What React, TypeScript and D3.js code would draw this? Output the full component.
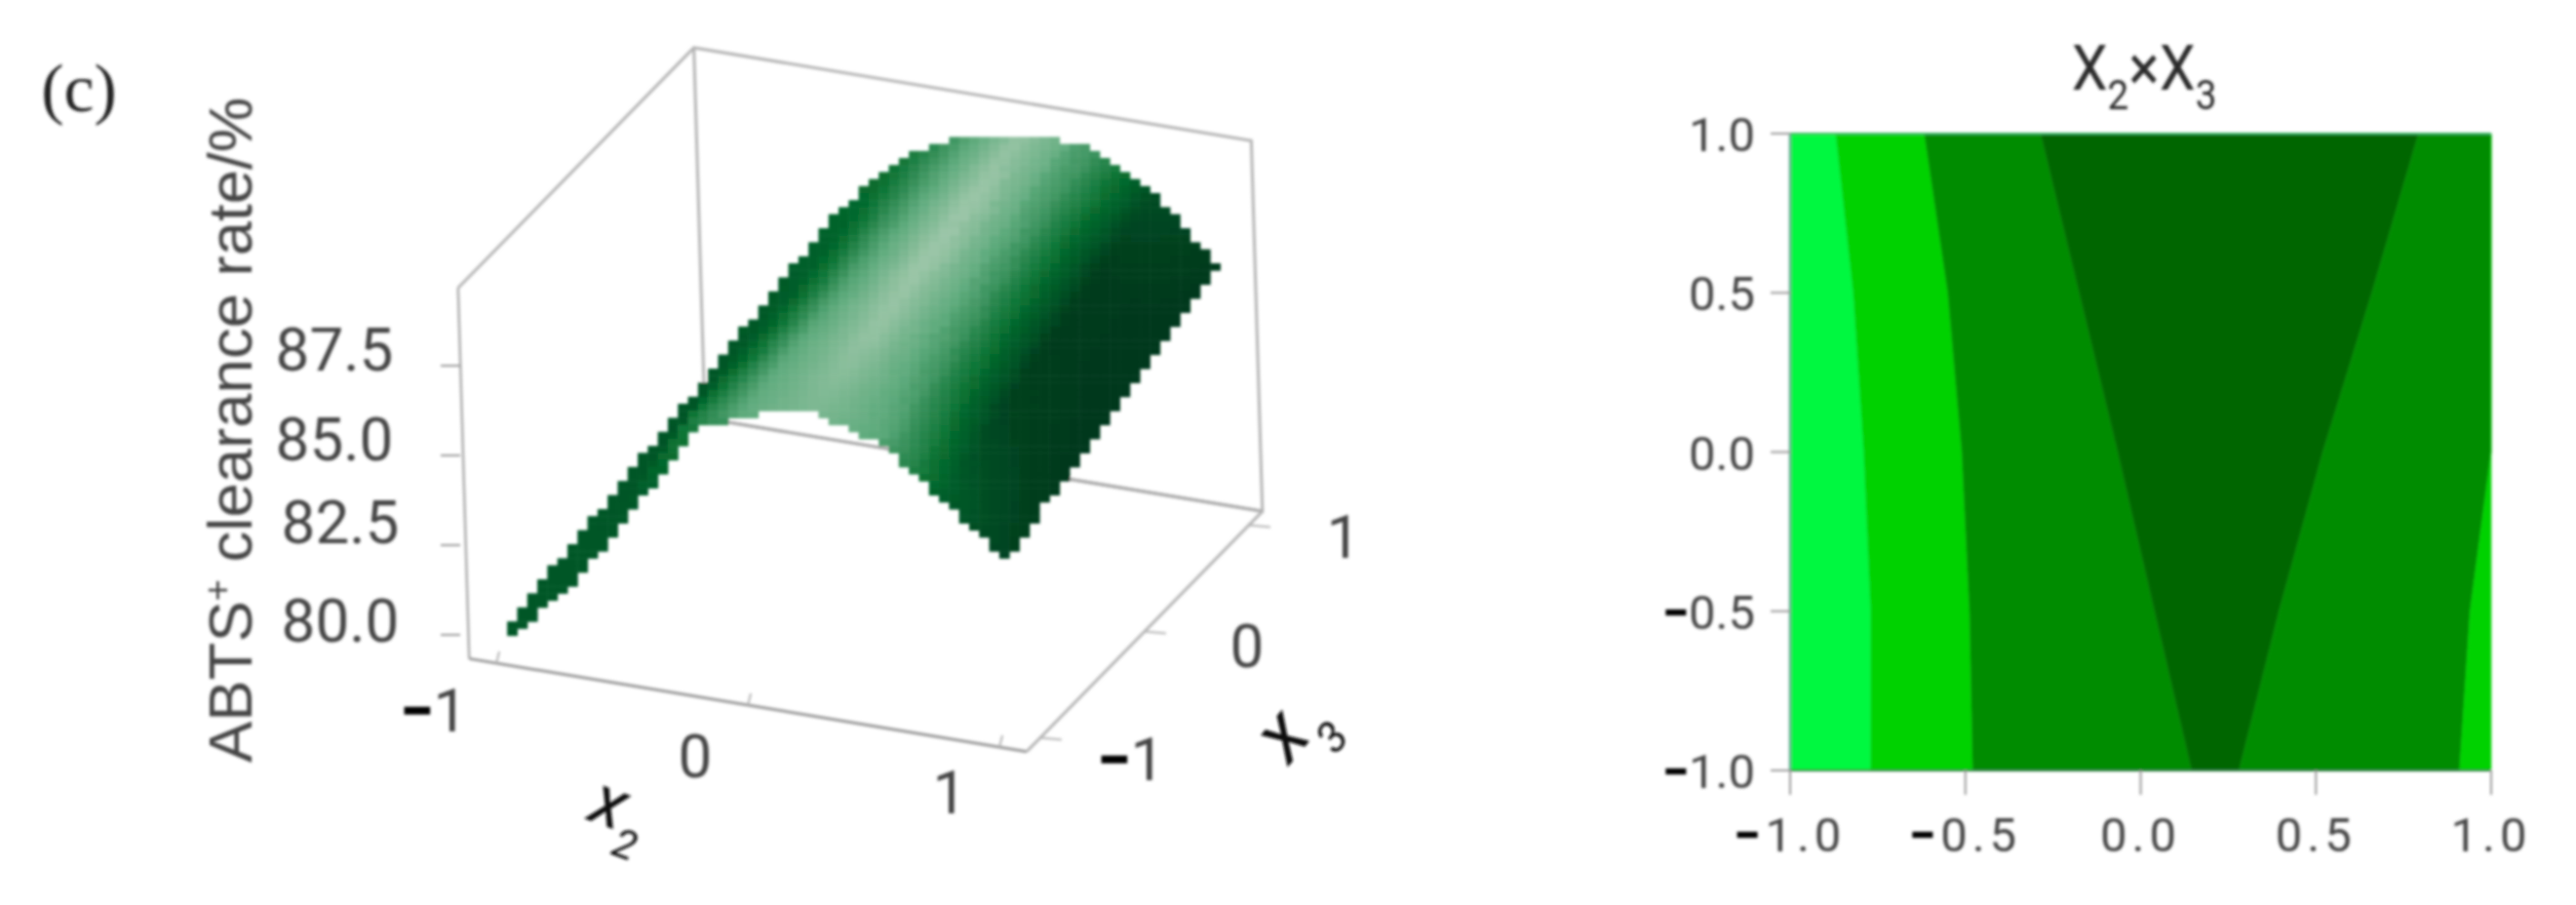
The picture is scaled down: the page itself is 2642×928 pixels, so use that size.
import * as d3 from 'd3';

// 3D response surface
const x2Grid = [-1, -0.75, -0.5, -0.25, 0, 0.25, 0.5, 0.75, 1];
const x3Grid = [-1, -0.5, 0, 0.5, 1];
const zRows = [
  [79.8, 81.5, 83.9, 86.4, 87.1, 87.45, 86.9, 85.7, 84.2],
  [80.1, 82.2, 84.6, 86.7, 87.5, 87.8, 87.4, 86.3, 84.8],
  [80.4, 82.7, 85.1, 87.0, 87.9, 88.25, 87.95, 86.85, 85.25],
  [80.7, 83.1, 85.5, 87.35, 88.3, 88.65, 88.5, 87.4, 85.8],
  [81.0, 83.5, 85.9, 87.7, 88.7, 89.05, 89.0, 88.0, 86.3],
];
const shadeRows = [
  [0.2, 0.2, 0.2, 0.4, 0.72, 0.85, 0.68, 0.25, 0.08],
  [0.2, 0.2, 0.18, 0.26, 0.68, 0.95, 0.6, 0.1, 0.03],
  [0.2, 0.2, 0.2, 0.24, 0.62, 1, 0.58, 0.05, 0.02],
  [0.2, 0.2, 0.22, 0.28, 0.6, 1, 0.58, 0.05, 0.02],
  [0.25, 0.25, 0.28, 0.35, 0.58, 0.95, 0.6, 0.14, 0.04],
];
const zTicks = [80, 82.5, 85, 87.5];
const sideTicks = [-1, 0, 1];

// contour panel: band edges (x value) at each y level
const contourY = [1, 0.5, 0, -0.5, -1];
const edgeA = [-0.87, -0.82, -0.79, -0.77, -0.77];
const edgeB = [-0.617, -0.55, -0.51, -0.488, -0.479];
const edgeC = [-0.285, -0.175, -0.065, 0.04, 0.146];
const edgeD = [0.793, 0.66, 0.52, 0.395, 0.281];
const edgeE = [1, 1, 1, 0.94, 0.91];
const edgeMin = [-1, -1, -1, -1, -1];
const edgeMax = [1, 1, 1, 1, 1];
const contourTicks = [-1, -0.5, 0, 0.5, 1];

const GREY = '#b4b4b4';
const INK = '#444';
const SANS = 'Roboto, "Liberation Sans", sans-serif';

const shadeColor = d3.scaleLinear<string>()
  .domain([0, 0.35, 0.7, 1])
  .range(['#02331a', '#077030', '#5fab7d', '#9cc6a8']);

// simple affine projection fitted to the box of the picture, with a small lean to the left going up
const zHeight = d3.scaleLinear().domain([80, 87.5]).range([27, 303]);
function project(x2: number, x3: number, z: number): [number, number] {
  const h = zHeight(z);
  return [888 + 258 * x2 + 107 * x3 - 0.03 * h, 600 + 43 * x2 - 109 * x3 - h];
}

const BOX = { x: 1.108, y: 1.13, zMin: 79.27, zMax: 89.6 };

function surfaceCells() {
  const zByRow = zRows.map((r) => d3.scaleLinear().domain(x2Grid).range(r));
  const sByRow = shadeRows.map((r) => d3.scaleLinear().domain(x2Grid).range(r));
  const cellW = 10.3;
  const cellH = 7.2;
  const cells = new Map<string, { x: number; y: number; fill: string }>();
  const x2Steps = d3.range(-1, 0.99, 1 / 90);
  const x3Steps = d3.range(1, -1.0001, -1 / 90);
  // back to front so the front part wins
  x3Steps.forEach((x3) => {
    x2Steps.forEach((x2) => {
      const z = d3.scaleLinear().domain(x3Grid).range(zByRow.map((s) => s(x2)))(x3);
      const shade = d3.scaleLinear().domain(x3Grid).range(sByRow.map((s) => s(x2)))(x3);
      const [sx, sy] = project(x2, x3, z);
      const i = Math.round(sx / cellW);
      const j = Math.round(sy / cellH);
      cells.set(`${i}:${j}`, { x: i * cellW, y: j * cellH, fill: shadeColor(shade) });
    });
  });
  return { cells: [...cells.values()], cellW, cellH };
}

function Minus({ size }: { size: number }) {
  return <tspan fill="#000" fontWeight={900} fontSize={size}>−</tspan>;
}

function Surface() {
  const { cells, cellW, cellH } = surfaceCells();
  const line = d3.line();
  const A = project(-BOX.x, -BOX.y, BOX.zMin);
  const B = project(BOX.x, -BOX.y, BOX.zMin);
  const C = project(BOX.x, BOX.y, BOX.zMin);
  const D = project(-BOX.x, BOX.y, BOX.zMin);
  const At = project(-BOX.x, -BOX.y, BOX.zMax);
  const Ct = project(BOX.x, BOX.y, BOX.zMax);
  const Dt = project(-BOX.x, BOX.y, BOX.zMax);
  return (
    <g>
      <path d={line([At, Dt, Ct, C, D, Dt])!} fill="none" stroke={GREY} strokeWidth={3} />
      <path d={line([D, C])!} fill="none" stroke="#a8a8a8" strokeWidth={3} />
      {cells.map((c, i) => (
        <rect key={i} x={c.x - cellW / 2} y={c.y - cellH / 2} width={cellW + 0.5} height={cellH + 0.5} fill={c.fill} />
      ))}
      <path d={line([At, A])!} fill="none" stroke="#aaa" strokeWidth={2.5} />
      <path d={line([A, B])!} fill="none" stroke="#999" strokeWidth={3} />
      <path d={line([B, C])!} fill="none" stroke={GREY} strokeWidth={3} />
      {zTicks.map((t) => {
        const yy = 678 - zHeight(t);
        return <line key={t} x1={452} x2={472} y1={yy} y2={yy} stroke="#999" strokeWidth={2} />;
      })}
      {sideTicks.map((t) => {
        const [x, y] = project(t, -BOX.y, BOX.zMin);
        return <line key={t} x1={x} y1={y} x2={x + 3} y2={y - 12} stroke={GREY} strokeWidth={2} />;
      })}
      {sideTicks.map((t) => {
        const [x, y] = project(BOX.x, t, BOX.zMin);
        return <line key={t} x1={x} y1={y} x2={x + 22} y2={y + 2} stroke={GREY} strokeWidth={2} />;
      })}
      <g fontFamily={SANS} fontSize={62} fill={INK} textAnchor="middle">
        <text x={343} y={380}>87.5</text>
        <text x={343} y={472}>85.0</text>
        <text x={349} y={557}>82.5</text>
        <text x={349} y={658}>80.0</text>
        <text x={1378} y={572}>1</text>
        <text x={1279} y={684}>0</text>
        <text x={1160} y={800}><Minus size={62} />1</text>
        <text x={445} y={750}><Minus size={62} />1</text>
        <text x={713} y={797}>0</text>
        <text x={974} y={834}>1</text>
      </g>
      <text transform="translate(258,441) rotate(-90)" textAnchor="middle" fontFamily='"Liberation Sans", Arial, sans-serif' fontSize={63.5} fill={INK}>
        ABTS<tspan dy={-22} fontSize={38}>+</tspan><tspan dy={22}> clearance rate/%</tspan>
      </text>
      <text transform="translate(601,840) rotate(20)" fontFamily={SANS} fontStyle="italic" fontSize={72} fill="#111">
        x<tspan dy={25} fontSize={42}>2</tspan>
      </text>
      <text transform="translate(1322,785) rotate(-50)" fontFamily={SANS} fontStyle="italic" fontSize={80} fill="#111">
        x<tspan dy={30} fontSize={44}>3</tspan>
      </text>
    </g>
  );
}

function Contour() {
  const x = d3.scaleLinear().domain([-1, 1]).range([1836, 2555]);
  const y = d3.scaleLinear().domain([-1, 1]).range([790, 137]);
  const band = (left: number[], right: number[]) =>
    d3.area<number>()
      .y((d) => y(d))
      .x0((_d, i) => x(left[i]))
      .x1((_d, i) => x(right[i]))(contourY)!;
  const bands: [number[], number[], string][] = [
    [edgeMin, edgeA, '#00f840'],
    [edgeA, edgeB, '#00d200'],
    [edgeB, edgeC, '#008c00'],
    [edgeC, edgeD, '#006600'],
    [edgeD, edgeE, '#008c00'],
    [edgeE, edgeMax, '#00d200'],
  ];
  const fmt = d3.format('.1f');
  return (
    <g>
      {bands.map(([l, r, fill], i) => (
        <path key={i} d={band(l, r)} fill={fill} stroke={fill} strokeWidth={0.5} />
      ))}
      <path d={`M${x(-1)},${y(1)}H${x(1)}`} stroke="#3fb866" strokeWidth={2} fill="none" />
      <path d={`M${x(-1)},${y(1)}V${y(-1)}`} stroke="#5fa88f" strokeWidth={2.5} fill="none" />
      <path d={`M${x(-1)},${y(-1)}H${x(1)}`} stroke="#2a7a3c" strokeWidth={2} fill="none" />
      {contourTicks.map((t) => (
        <g key={t}>
          <line x1={x(-1) - 20} x2={x(-1)} y1={y(t)} y2={y(t)} stroke="#999" strokeWidth={2} />
          <line x1={x(t)} x2={x(t)} y1={y(-1)} y2={y(-1) + 25} stroke="#999" strokeWidth={2} />
          <text x={1800} y={y(t) + 18} textAnchor="end" fontFamily={SANS} fontSize={49} fill={INK}>
            {t < 0 && <Minus size={49} />}{fmt(Math.abs(t))}
          </text>
          <text x={x(t)} y={873} textAnchor="middle" fontFamily={SANS} fontSize={49} letterSpacing={5} fill={INK}>
            {t < 0 && <Minus size={49} />}{fmt(Math.abs(t))}
          </text>
        </g>
      ))}
      <text transform="translate(2199,92) scale(0.92,1)" textAnchor="middle" fontFamily={SANS} fontSize={64} fill="#2a2a2a">
        X<tspan dy={20} fontSize={42}>2</tspan><tspan dy={-20}>×X</tspan><tspan dy={20} fontSize={42}>3</tspan>
      </text>
    </g>
  );
}

export default function App() {
  return (
    <svg width={2642} height={928} viewBox="0 0 2642 928" style={{ position: 'absolute', left: 0, top: 0, background: '#fff' }}>
      <defs>
        <filter id="soft" filterUnits="userSpaceOnUse" x={0} y={0} width={2642} height={928}>
          <feGaussianBlur stdDeviation={1.5} />
        </filter>
      </defs>
      <g filter="url(#soft)">
        <text x={81} y={114} textAnchor="middle" fontFamily='"Liberation Serif", serif' fontSize={70} fill="#222">(c)</text>
        <Surface />
        <Contour />
      </g>
    </svg>
  );
}
